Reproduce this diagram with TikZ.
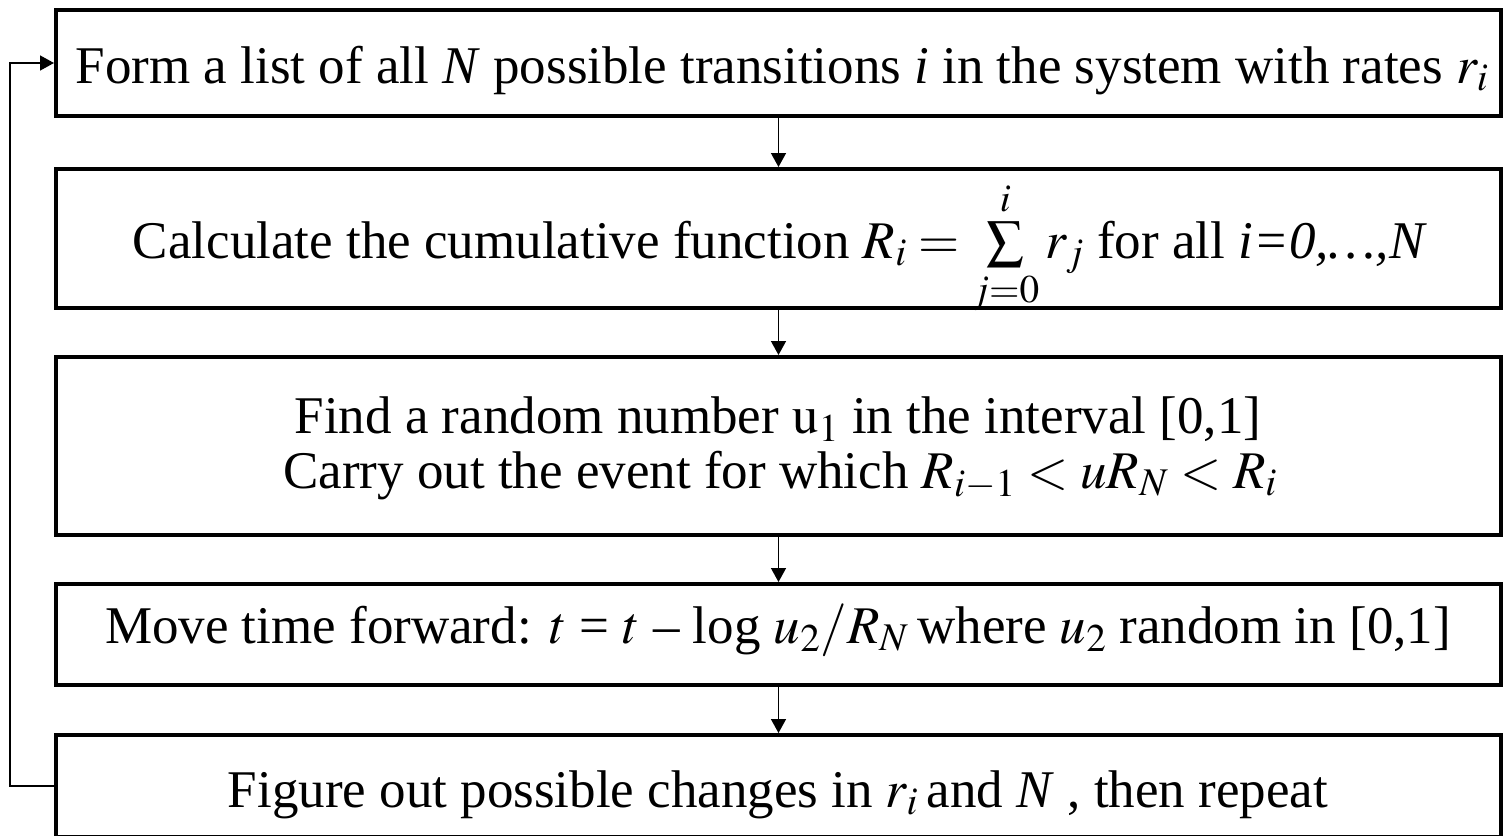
\documentclass[tikz,border=0pt]{standalone}
\usepackage{mathptmx}
\usepackage{fontspec}
\setmainfont{Liberation Serif}
\usetikzlibrary{arrows.meta}
\tikzset{
  stepbox/.style={draw, line width=4pt, rectangle, minimum width=1445pt, inner sep=0pt},
  steptext/.style={anchor=base, inner sep=0pt, font=\fontsize{53}{55}\selectfont},
  flow/.style={line width=1.5pt, -{Triangle[length=14pt,width=15pt]}}
}
\begin{document}
\begin{tikzpicture}[x=1pt,y=-1pt]
\useasboundingbox (0,0) rectangle (1506,835);
\node[stepbox, minimum height=106pt] (b1) at (778.5,63) {};
\node[stepbox, minimum height=139pt] (b2) at (778.5,238.5) {};
\node[stepbox, minimum height=178pt] (b3) at (778.5,446) {};
\node[stepbox, minimum height=101pt] (b4) at (778.5,634.5) {};
\node[stepbox, minimum height=102pt] (b5) at (778.5,786) {};
\node[steptext] (t1) at (782,83) {Form a list of all \textit{N} possible transitions \textit{i} in the system with rates $r_i$};
\node[steptext] (t2) at (780,258) {Calculate the cumulative function $R_i=\sum\limits_{j=0}^{i} r_j$ for all \textit{i=0,\ldots,N}};
\node[steptext] (t3a) at (778,433) {Find a random number $\mathrm{u}_1$ in the interval [0,1]};
\node[steptext] (t3b) at (780,488) {Carry out the event for which $R_{i-1}<uR_N<R_i$};
\node[steptext] (t4) at (778,643) {Move time forward: $t$ = $t$ -- log $u_2/R_N$\,where $u_2$ random in [0,1]};
\node[steptext] (t5) at (778,807) {Figure out possible changes in $r_i$\,and \textit{N} , then repeat};
\draw[flow] (b1.south) -- (b2.north);
\draw[flow] (b2.south) -- (b3.north);
\draw[flow] (b3.south) -- (b4.north);
\draw[flow] (b4.south) -- (b5.north);
\draw[flow] (b5.west) -- ++(-44,0) |- (b1.west);
\end{tikzpicture}
\end{document}
